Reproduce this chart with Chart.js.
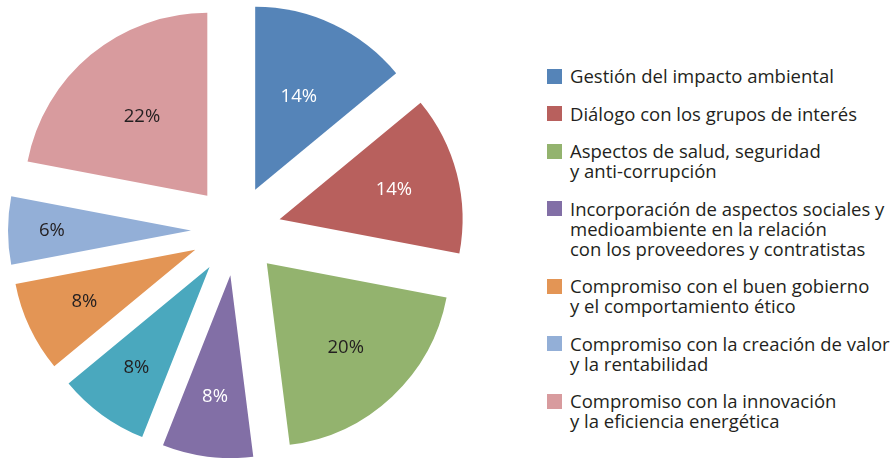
<!DOCTYPE html>
<html>
<head>
<meta charset="utf-8">
<script src="https://cdn.jsdelivr.net/npm/chart.js@4/dist/chart.umd.min.js"></script>
<style>
    html, body { margin: 0; padding: 0; background: #fff; }
    body { width: 894px; height: 458px; position: relative; overflow: hidden; }
    #wrap { position: absolute; left: 0; top: 0; width: 472px; height: 458px; }
    #leyenda {
        position: absolute; left: 547px; top: 66px;
        font-family: 'Open Sans', sans-serif; font-size: 18.5px; line-height: 20px;
        color: #231f20; white-space: nowrap;
    }
    .item { display: flex; margin-bottom: 17.5px; }
    .box { width: 15px; height: 15px; margin-top: 2.5px; margin-right: 8px; flex: none; }
</style>
</head>
<body>
<div id="wrap"><canvas id="pieChart"></canvas></div>
<div id="leyenda"></div>
<script>
// Data
const categorias = [
    ['Gestión del impacto ambiental'],
    ['Diálogo con los grupos de interés'],
    ['Aspectos de salud, seguridad', 'y anti-corrupción'],
    ['Incorporación de aspectos sociales y', 'medioambiente en la relación', 'con los proveedores y contratistas'],
    null, // teal slice, not in the legend
    ['Compromiso con el buen gobierno', 'y el comportamiento ético'],
    ['Compromiso con la creación de valor', 'y la rentabilidad'],
    ['Compromiso con la innovación', 'y la eficiencia energética']
];
const valores = [14, 14, 20, 8, 8, 8, 6, 22];

const colores = ['#5584b8', '#b8605d', '#93b36e', '#826fa6', '#4aa8be', '#e39555', '#93afd7', '#d89b9e'];
const coloresTexto = ['#fff', '#fff', '#231f20', '#fff', '#231f20', '#231f20', '#231f20', '#231f20'];
// how far out (fraction of radius) each % label sits
const posEtiqueta = [0.56, 0.645, 0.63, 0.67, 0.68, 0.67, 0.76, 0.56];

const EXPLODE = 45;   // px each slice is pulled out

// Pull every slice out along its middle angle
const explodePlugin = {
    id: 'explode',
    afterDatasetUpdate(chart, args) {
        args.meta.data.forEach(arc => {
            const mid = (arc.startAngle + arc.endAngle) / 2;
            arc.x += Math.cos(mid) * EXPLODE;
            arc.y += Math.sin(mid) * EXPLODE;
        });
    }
};

// Percentage labels inside slices
const labelPlugin = {
    id: 'pctLabels',
    afterDatasetsDraw(chart) {
        const ctx = chart.ctx;
        const meta = chart.getDatasetMeta(0);
        ctx.save();
        ctx.font = "18.5px 'Open Sans'";
        ctx.textAlign = 'center';
        ctx.textBaseline = 'middle';
        meta.data.forEach((arc, i) => {
            const mid = (arc.startAngle + arc.endAngle) / 2;
            const r = arc.outerRadius * posEtiqueta[i];
            ctx.fillStyle = coloresTexto[i];
            ctx.fillText(valores[i] + '%', arc.x + Math.cos(mid) * r, arc.y + Math.sin(mid) * r);
        });
        ctx.restore();
    }
};

new Chart(document.getElementById('pieChart').getContext('2d'), {
    type: 'pie',
    data: {
        labels: categorias.map(c => c ? c.join(' ') : ''),
        datasets: [{
            data: valores,
            backgroundColor: colores,
            borderWidth: 0
        }]
    },
    options: {
        responsive: true,
        maintainAspectRatio: false,
        animation: false,
        events: [],
        radius: 183,
        layout: { padding: { top: 3 } },
        plugins: {
            legend: { display: false },
            tooltip: { enabled: false }
        }
    },
    plugins: [explodePlugin, labelPlugin]
});

// Legend on the right
const leyenda = document.getElementById('leyenda');
categorias.forEach((lineas, i) => {
    if (!lineas) return;
    const item = document.createElement('div');
    item.className = 'item';
    item.innerHTML = `<span class="box" style="background:${colores[i]}"></span><span>${lineas.join('<br>')}</span>`;
    leyenda.appendChild(item);
});
</script>
</body>
</html>
